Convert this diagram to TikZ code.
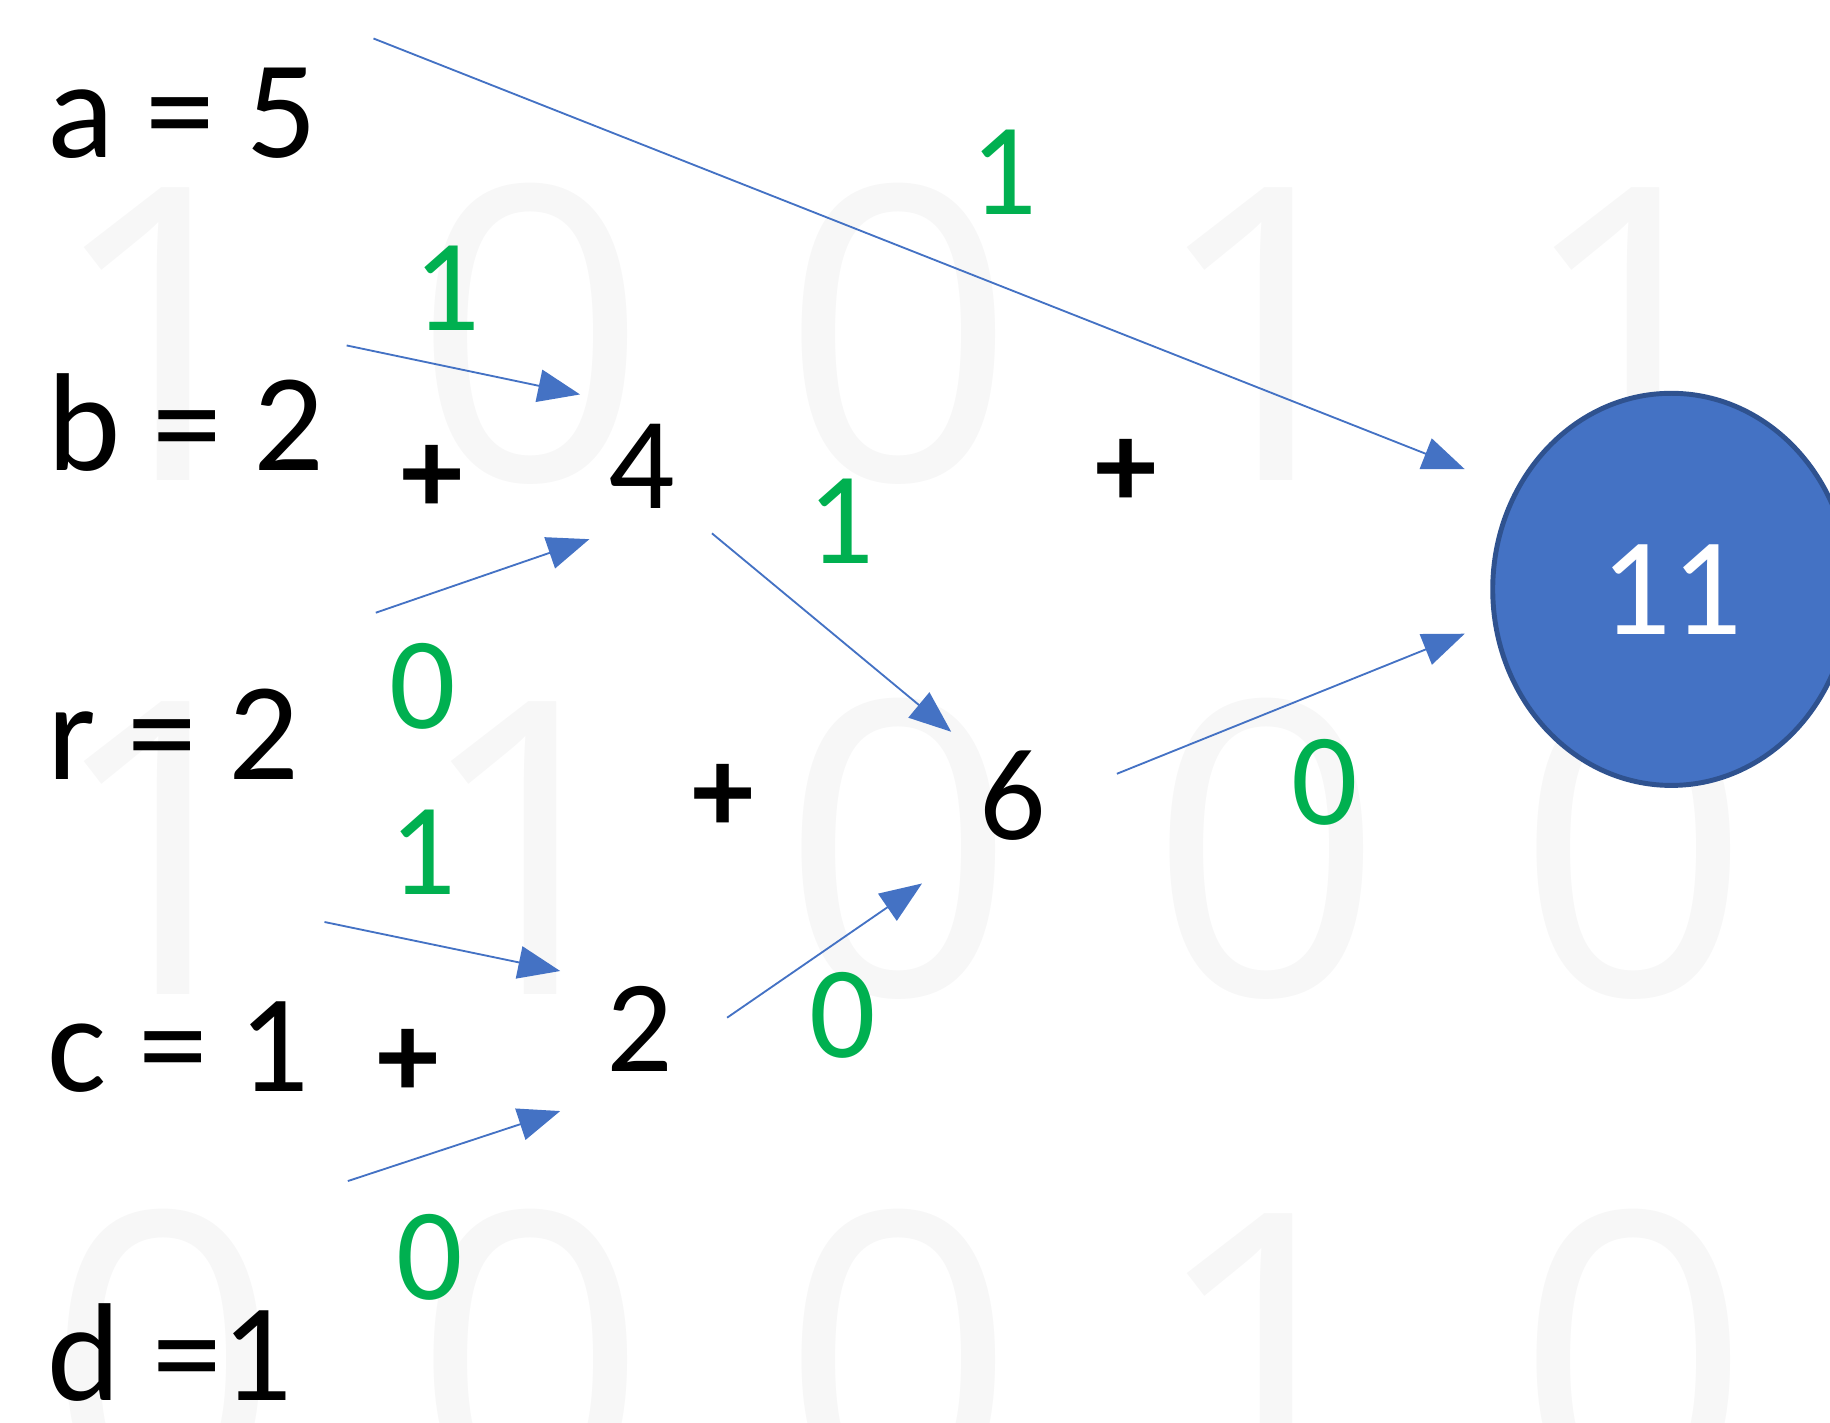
\documentclass[tikz,border=0pt]{standalone}
\usepackage{fontspec}
\usepackage{tikz}
\usetikzlibrary{arrows.meta, positioning, shapes.geometric}
\setmainfont{Carlito}
\newfontfamily\bgfont{Open Sans}
\definecolor{flowblue}{HTML}{4472C4}
\definecolor{ringblue}{HTML}{2F528F}
\definecolor{bitgreen}{HTML}{00B050}
\definecolor{ghostgray}{HTML}{F7F7F7}

\tikzset{
  bgdigit/.style={inner sep=0, ghostgray, font=\bgfont\fontsize{100}{100}\selectfont},
  varlabel/.style={anchor=base west, inner sep=0, font=\fontsize{34}{40}\selectfont},
  partial/.style={inner sep=0, font=\fontsize{32}{38}\selectfont},
  plussign/.style={inner sep=0, font=\bfseries\fontsize{30}{36}\selectfont},
  bitlabel/.style={inner sep=0, bitgreen, font=\fontsize{32}{38}\selectfont},
  flow/.style={flowblue, line width=0.45pt, -{Triangle[length=0.36cm, width=0.28cm]}},
}

\begin{document}
\begin{tikzpicture}
  \useasboundingbox (0,0) rectangle (15.68,12.19);
  \clip (0,0) rectangle (15.68,12.19);

  \foreach \d [count=\i from 0] in {1,0,0,1,1}
    \node[bgdigit] (bgA\i) at (1.40+3.15*\i,9.33) {\d};
  \foreach \d [count=\i from 0] in {1,1,0,0,0}
    \node[bgdigit] (bgB\i) at (1.40+3.15*\i,4.92) {\d};
  \foreach \d [count=\i from 0] in {0,0,0,1,0}
    \node[bgdigit] (bgC\i) at (1.40+3.15*\i,0.54) {\d};

  \node[varlabel] (va) at (0.40,10.84) {a = 5};
  \node[varlabel] (vb) at (0.40,8.16) {b = 2};
  \node[varlabel] (vr) at (0.40,5.51) {r = 2};
  \node[varlabel] (vc) at (0.40,2.84) {c = 1};
  \node[varlabel] (vd) at (0.40,0.19) {d =1};

  \node[plussign] (plusAB) at (3.70,8.08) {+};
  \node[plussign] (plusTop) at (9.65,8.13) {+};
  \node[plussign] (plusMid) at (6.20,5.35) {+};
  \node[plussign] (plusCD) at (3.50,3.08) {+};

  \node[partial] (sum4) at (5.50,8.19) {4};
  \node[partial] (sum6) at (8.68,5.37) {6};
  \node[partial] (sum2) at (5.48,3.37) {2};

  \node[ellipse, fill=flowblue, draw=ringblue, line width=1.2pt, minimum width=3.06cm,
        minimum height=3.36cm, text=white, font=\fontsize{34}{40}\selectfont] (res) at (14.32,7.14) {11};

  \node[bitlabel] (bitA) at (8.60,10.71) {1};
  \node[bitlabel] (bitB) at (3.83,9.72) {1};
  \node[bitlabel] (bit4) at (7.20,7.72) {1};
  \node[bitlabel] (bitR) at (3.62,6.31) {0};
  \node[bitlabel] (bitC) at (3.62,4.89) {1};
  \node[bitlabel] (bit2) at (7.22,3.49) {0};
  \node[bitlabel] (bit6) at (11.35,5.49) {0};
  \node[bitlabel] (bitD) at (3.68,1.42) {0};

  \coordinate (aout) at (3.20,11.86);
  \coordinate (resinA) at (12.55,8.17);
  \coordinate (bout) at (2.97,9.23);
  \coordinate (sum4inB) at (4.97,8.81);
  \coordinate (rout) at (3.22,6.94);
  \coordinate (sum4inR) at (5.05,7.57);
  \coordinate (sum4out) at (6.10,7.62);
  \coordinate (sum6in4) at (8.15,5.92);
  \coordinate (sum6out) at (9.57,5.56);
  \coordinate (resin6) at (12.55,6.76);
  \coordinate (cout) at (2.78,4.29);
  \coordinate (sum2inC) at (4.80,3.87);
  \coordinate (dout) at (2.98,2.07);
  \coordinate (sum2inD) at (4.80,2.67);
  \coordinate (sum2out) at (6.23,3.47);
  \coordinate (sum6in2) at (7.90,4.62);

  \draw[flow] (aout) -- (resinA);
  \draw[flow] (bout) -- (sum4inB);
  \draw[flow] (rout) -- (sum4inR);
  \draw[flow] (sum4out) -- (sum6in4);
  \draw[flow] (sum6out) -- (resin6);
  \draw[flow] (cout) -- (sum2inC);
  \draw[flow] (dout) -- (sum2inD);
  \draw[flow] (sum2out) -- (sum6in2);
\end{tikzpicture}
\end{document}
